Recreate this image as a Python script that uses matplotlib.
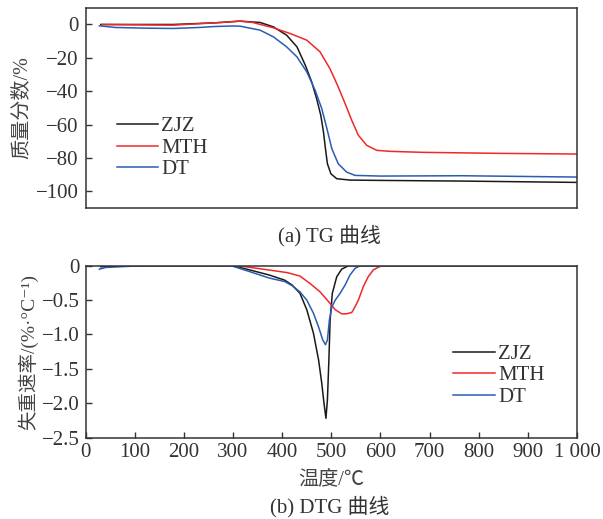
import matplotlib
matplotlib.use("Agg")
import matplotlib.pyplot as plt

# ---- data ----
# TG curves: temperature (°C) / mass fraction (%)
tg_zjz_t = [31, 100, 178, 264, 314, 355, 382, 409, 430, 447, 460, 470, 478.5,
            484, 488, 492, 499, 511, 538, 599, 765, 1000]
tg_zjz_m = [0, 0, 0, 1.0, 2.0, 1.2, -1.4, -6.4, -13.4, -24.4, -34.4, -44.4, -54.4,
            -64.4, -74.4, -83.4, -89.4, -92.4, -93.2, -93.4, -93.8, -94.6]

tg_mth_t = [34, 100, 178, 264, 314, 340, 382, 416, 450, 477, 497, 514, 528,
            541.5, 555, 572, 592.5, 620, 687, 844, 1000]
tg_mth_m = [0, -0.2, -0.4, 1.0, 2.0, 1.2, -2.0, -5.4, -9.4, -16.4, -26.4, -37.4, -47.4,
            -57.4, -66.4, -72.4, -75.4, -76.0, -76.6, -77.2, -77.6]

tg_dt_t = [28, 61, 120, 178, 230, 264, 300, 314, 355, 382, 409, 430, 450, 467,
           480.5, 491, 501, 514, 531, 548, 599, 765, 1000]
tg_dt_m = [-0.8, -1.8, -2.2, -2.4, -1.8, -1.2, -0.9, -1.0, -3.4, -7.4, -13.4, -19.4, -28.4, -39.4,
           -50.4, -62.4, -74.4, -83.4, -88.4, -90.4, -90.8, -90.6, -91.4]

# DTG curves: temperature (°C) / rate (%/°C)
dtg_zjz_t = [31, 60, 100, 300, 335, 374, 405, 420, 436, 450, 463.5, 474, 480.5, 485,
             489, 492, 495, 497.5, 502, 511, 521, 535, 1000]
dtg_zjz_r = [-0.015, -0.005, 0, 0, -0.063, -0.136, -0.21, -0.28, -0.40, -0.64, -0.98, -1.37, -1.71, -2.0,
             -2.22, -1.95, -1.37, -0.79, -0.40, -0.16, -0.05, 0, 0]

dtg_mth_t = [100, 250, 300, 311, 374, 410, 436, 457, 477, 494, 508, 521, 531,
             541.5, 545, 555, 565, 575, 585.5, 599, 612, 1000]
dtg_mth_r = [0, 0.01, 0.01, 0, -0.063, -0.10, -0.15, -0.26, -0.38, -0.52, -0.64, -0.70, -0.70,
             -0.68, -0.64, -0.50, -0.305, -0.16, -0.06, -0.01, 0, 0]

dtg_dt_t = [28, 41, 100, 296, 327, 374, 405, 420, 436, 450, 463.5, 474, 482.5, 488,
            492, 496, 501, 508, 518, 528, 538, 548, 558.5, 1000]
dtg_dt_r = [-0.05, -0.025, -0.005, 0, -0.07, -0.18, -0.23, -0.29, -0.38, -0.50, -0.69, -0.89, -1.08, -1.15,
            -1.08, -0.79, -0.60, -0.50, -0.40, -0.28, -0.135, -0.04, 0, 0]

names = ["ZJZ", "MTH", "DT"]
colors = ["#1a1a1a", "#f02828", "#2a5cb4"]

x_ticks = [0, 100, 200, 300, 400, 500, 600, 700, 800, 900, 1000]
x_labels = ["0", "100", "200", "300", "400", "500", "600", "700", "800", "900", "1 000"]
tg_yticks = [0, -20, -40, -60, -80, -100]
tg_ylabels = ["0", "\u221220", "\u221240", "\u221260", "\u221280", "\u2212100"]
dtg_yticks = [0, -0.5, -1.0, -1.5, -2.0, -2.5]
dtg_ylabels = ["0", "\u22120.5", "\u22121.0", "\u22121.5", "\u22122.0", "\u22122.5"]

# ---- styling ----
FONT = ["Liberation Serif", "Noto Sans CJK SC", "DejaVu Sans"]
plt.rcParams["font.family"] = FONT
plt.rcParams["font.size"] = 15
plt.rcParams["text.color"] = "#333333"
plt.rcParams["axes.edgecolor"] = "#333333"
plt.rcParams["xtick.color"] = "#333333"
plt.rcParams["ytick.color"] = "#333333"
plt.rcParams["axes.linewidth"] = 1.1

fig = plt.figure(figsize=(6.03, 5.19), dpi=100)
ax1 = fig.add_axes([0.142, 0.599, 0.815, 0.386])
ax2 = fig.add_axes([0.142, 0.157, 0.815, 0.331])

# TG panel
for t, m, n, c in zip([tg_zjz_t, tg_mth_t, tg_dt_t], [tg_zjz_m, tg_mth_m, tg_dt_m], names, colors):
    ax1.plot(t, m, color=c, lw=1.1, label=n)
ax1.set_xlim(0, 1000)
ax1.set_ylim(-110, 10)
ax1.set_yticks(tg_yticks)
ax1.set_yticklabels(tg_ylabels)
ax1.set_xticks([])
ax1.tick_params(axis="y", direction="in", length=4, width=1, labelsize=15, pad=5)
ax1.set_ylabel("质量分数/%", fontsize=14.5, color="#444444", labelpad=3)
ax1.legend(loc="center left", bbox_to_anchor=(0.025, 0.30), frameon=False,
           handlelength=2.0, handletextpad=0.15, labelspacing=0.1, fontsize=15)

# DTG panel
for t, r, n, c in zip([dtg_zjz_t, dtg_mth_t, dtg_dt_t], [dtg_zjz_r, dtg_mth_r, dtg_dt_r], names, colors):
    ax2.plot(t, r, color=c, lw=1.1, label=n)
ax2.set_xlim(0, 1000)
ax2.set_ylim(-2.5, 0)
ax2.set_xticks(x_ticks)
ax2.set_xticklabels(x_labels)
ax2.set_yticks(dtg_yticks)
ax2.set_yticklabels(dtg_ylabels)
ax2.tick_params(axis="both", direction="in", length=4, width=1, labelsize=15, pad=4)
ax2.set_ylabel("失重速率/(%·°C⁻¹)", fontsize=14, color="#444444", labelpad=3)
ax2.set_xlabel("温度/℃", fontsize=14.5, color="#444444", labelpad=6)
ax2.legend(loc="center left", bbox_to_anchor=(0.71, 0.36), frameon=False,
           handlelength=2.0, handletextpad=0.15, labelspacing=0.1, fontsize=15)

fig.text(0.547, 1 - 236 / 519, "(a) TG 曲线", ha="center", va="center", fontsize=15)
fig.text(0.547, 1 - 507 / 519, "(b) DTG 曲线", ha="center", va="center", fontsize=15)

fig.savefig("out.png", dpi=100)
